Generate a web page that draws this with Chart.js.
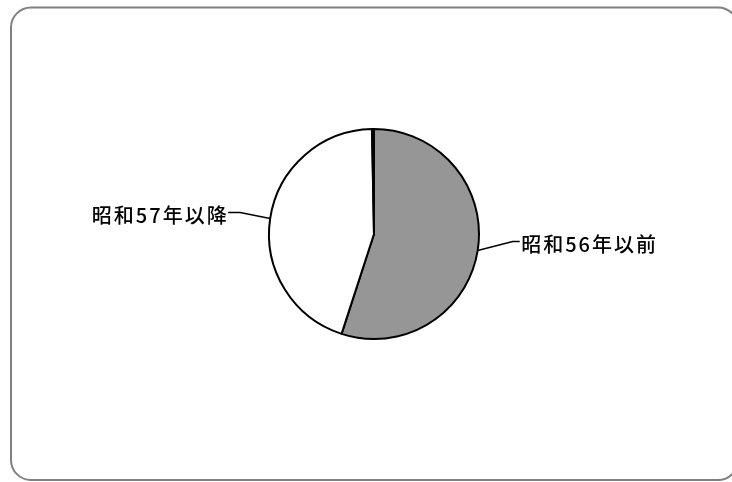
<!DOCTYPE html>
<html>
<head>
<meta charset="utf-8">
<script src="https://cdn.jsdelivr.net/npm/chart.js@4"></script>
<style>
  html, body { margin: 0; padding: 0; background: #fff; }
  canvas { display: block; }
</style>
</head>
<body>
<canvas id="pieChart" width="732" height="482"></canvas>
<script>
// 建築年代別の割合（%）
const categories = ['昭和56年以前', '昭和57年以降', ''];
const shares = [55.0, 44.7, 0.3];
const sliceColors = ['#969696', '#ffffff', '#ffffff'];

const labelFont = '500 20px "Noto Sans CJK JP", "Noto Sans", sans-serif';
const labelSpacing = 2;

// rounded frame around the whole chart
const framePlugin = {
  id: 'frame',
  beforeDraw(chart) {
    const c = chart.ctx;
    c.save();
    c.fillStyle = '#fff';
    c.fillRect(0, 0, chart.width, chart.height);
    c.beginPath();
    c.roundRect(11, 7.5, 727, 472.5, 20);
    c.lineWidth = 2;
    c.strokeStyle = '#808080';
    c.stroke();
    c.restore();
  }
};

// category names outside the pie with leader lines
const leaderLabels = {
  id: 'leaderLabels',
  afterDatasetsDraw(chart) {
    const c = chart.ctx;
    const arcs = chart.getDatasetMeta(0).data;
    c.save();
    c.font = labelFont;
    c.letterSpacing = labelSpacing + 'px';
    c.fillStyle = '#000';
    c.strokeStyle = '#000';
    c.lineWidth = 1.5;
    c.textBaseline = 'middle';
    arcs.forEach((arc, i) => {
      if (!categories[i]) return;
      const { x, y, startAngle, endAngle, outerRadius } = arc.getProps(['x', 'y', 'startAngle', 'endAngle', 'outerRadius'], true);
      const mid = (startAngle + endAngle) / 2;
      const ex = x + Math.cos(mid) * outerRadius;
      const ey = y + Math.sin(mid) * outerRadius;
      const right = Math.cos(mid) >= 0;
      const dir = right ? 1 : -1;
      const bx = ex + dir * (right ? 35 : 30);
      const by = ey - (right ? 9 : 6);
      const tx = bx + dir * (right ? 7 : 12);
      c.beginPath();
      c.moveTo(ex, ey);
      c.lineTo(bx, by);
      c.lineTo(tx, by);
      c.stroke();
      c.textAlign = right ? 'left' : 'right';
      // trailing letter spacing sits on the right end of the text
      const ox = right ? 1.5 : -1.5 + labelSpacing;
      c.fillText(categories[i], tx + ox, by + 2.5);
    });
    c.restore();
  }
};

new Chart(document.getElementById('pieChart'), {
  type: 'pie',
  data: {
    labels: categories,
    datasets: [{
      data: shares,
      backgroundColor: sliceColors,
      borderColor: '#000',
      borderWidth: 2
    }]
  },
  options: {
    responsive: false,
    animation: false,
    layout: { padding: { left: 268, right: 252, top: 128, bottom: 142 } },
    plugins: {
      legend: { display: false },
      tooltip: { enabled: false }
    }
  },
  plugins: [framePlugin, leaderLabels]
});
</script>
</body>
</html>
